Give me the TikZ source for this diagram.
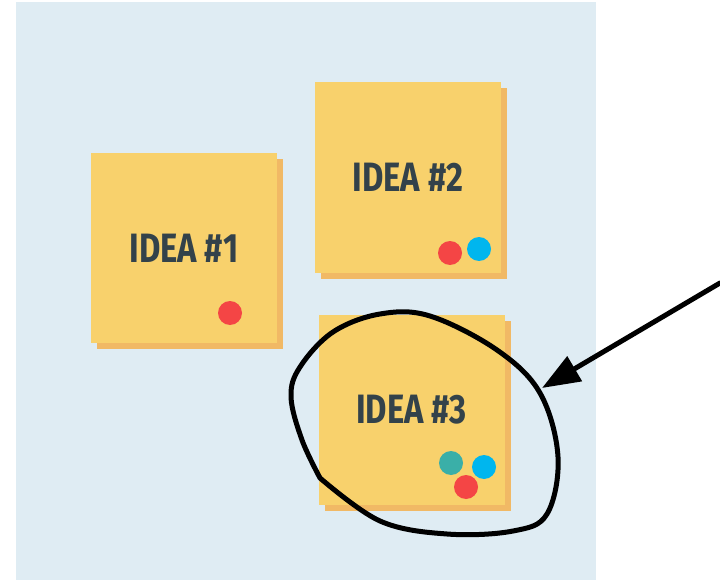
\documentclass[tikz,border=0pt]{standalone}
\usepackage{fontspec}
\usetikzlibrary{arrows.meta}
\newfontfamily\ideafont{Fira Sans}[FakeStretch=0.8]
\definecolor{board}{HTML}{DFECF3}
\definecolor{paper}{HTML}{F8D16C}
\definecolor{papershade}{HTML}{F1B965}
\definecolor{ink}{HTML}{33424A}
\definecolor{pinred}{HTML}{F44545}
\definecolor{pinblue}{HTML}{00B6EE}
\definecolor{pinteal}{HTML}{3AAFA8}
\tikzset{
	note/.style={fill=paper, minimum width=186pt, minimum height=190pt, inner sep=0pt,
		preaction={fill=papershade, transform canvas={shift={(6pt,-6pt)}}},
		text=ink, font=\ideafont\bfseries\fontsize{41}{45}\selectfont},
	pin/.style={circle, minimum size=24pt, inner sep=0pt}
}
\begin{document}
\begin{tikzpicture}[x=1pt, y=-1pt, line join=round, line cap=round]
			\useasboundingbox (0,0) rectangle (720,580);
			\fill[board] (16,2) rectangle (596,580);
			
			\node[note] (N1) at (184,248) {IDEA \#1};
			\node[note] (N2) at (408,177.5) {IDEA \#2};
			\node[note] (N3) at (411.5,409.5) {IDEA \#3};
			
			\foreach \name/\point/\col in {P1/{(230,313)}/pinred, P2/{(450,253)}/pinred, P3/{(479,249)}/pinblue,
				P4/{(451,463)}/pinteal, P5/{(484,467)}/pinblue, P6/{(466,487)}/pinred}
			\node[pin, fill=\col] (\name) at \point {};
			
			\path
			(720,283) coordinate (S)
			(542,388) coordinate (T);
			
			\draw[line width=5pt]
			plot[smooth, tension=0.6] coordinates {(320,478) (380,521) (447,534) (513,531) (547,514) (558,457)
				(540,393) (497,350) (430,316) (380,314) (333,332) (300,367) (291,397) (302,440) (320,478)};
			
			\draw[line width=5pt, -{Triangle[length=38pt, width=28pt]}] (S)--(T);
		\end{tikzpicture}
\end{document}
